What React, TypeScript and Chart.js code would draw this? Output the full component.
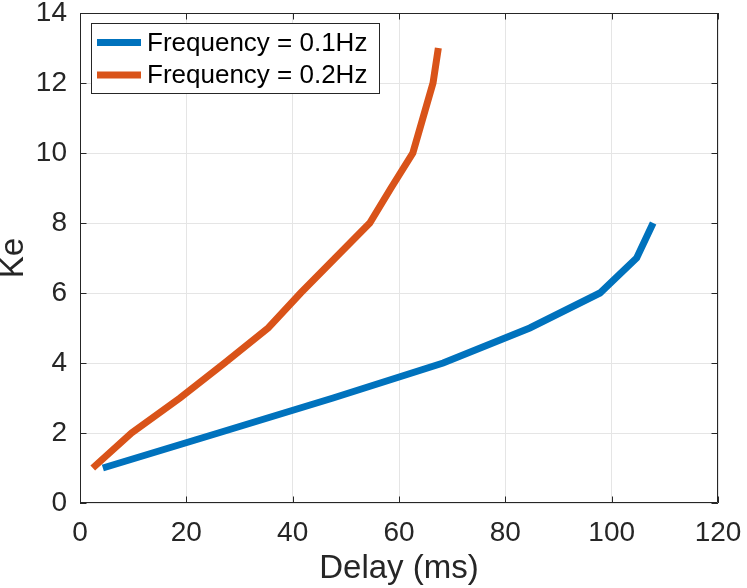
import React, { useEffect, useRef } from "react";
import { Chart, registerables } from "chart.js";

Chart.register(...registerables);

const delayLow = [4.3, 26, 47.6, 68.3, 84.6, 97.8, 104.7, 107.8];
const keLow = [1, 2, 3, 4, 5, 6, 7, 8];
const delayHigh = [2.4, 9.7, 18.8, 27.2, 35.4, 41.5, 48, 54.5, 58.5, 62.6, 64.5, 66.4, 67.4];
const keHigh = [1, 2, 3, 4, 5, 6, 7, 8, 9, 10, 11, 12, 13];
const seriesLabels = ["Frequency = 0.1Hz", "Frequency = 0.2Hz"];
const seriesColors = ["#0072BD", "#D95319"];
const xLabel = "Delay (ms)";
const yLabel = "Ke";

const FONT = "'Liberation Sans', Arial, Helvetica, sans-serif";
const AX = "#262626";

const framePlugin = {
  id: "matlabFrame",
  afterDraw(chart: any) {
    const { ctx, chartArea, scales } = chart;
    const { left, right, top, bottom } = chartArea;
    ctx.save();
    ctx.strokeStyle = AX;
    ctx.lineWidth = 1;
    ctx.beginPath();
    ctx.rect(left + 0.5, top + 0.5, right - left - 1, bottom - top - 1);
    ctx.stroke();
    const tl = 6.5;
    ctx.beginPath();
    scales.x.ticks.forEach((t: any) => {
      const px = Math.round(scales.x.getPixelForValue(t.value)) + 0.5;
      ctx.moveTo(px, bottom);
      ctx.lineTo(px, bottom - tl);
      ctx.moveTo(px, top);
      ctx.lineTo(px, top + tl);
    });
    scales.y.ticks.forEach((t: any) => {
      const py = Math.round(scales.y.getPixelForValue(t.value)) + 0.5;
      ctx.moveTo(left, py);
      ctx.lineTo(left + tl, py);
      ctx.moveTo(right, py);
      ctx.lineTo(right - tl, py);
    });
    ctx.stroke();

    // legend
    const bx = left + 11;
    const by = top + 10;
    const bw = 288;
    const bh = 70;
    ctx.fillStyle = "#ffffff";
    ctx.fillRect(bx, by, bw, bh);
    ctx.strokeStyle = AX;
    ctx.lineWidth = 1;
    ctx.strokeRect(bx + 0.5, by + 0.5, bw, bh);
    ctx.font = `26px ${FONT}`;
    ctx.textBaseline = "middle";
    ctx.textAlign = "left";
    chart.data.datasets.forEach((ds: any, i: number) => {
      const yy = by + 19.5 + i * 32.5;
      ctx.strokeStyle = ds.borderColor;
      ctx.lineWidth = 7;
      ctx.lineCap = "butt";
      ctx.beginPath();
      ctx.moveTo(bx + 6, yy);
      ctx.lineTo(bx + 50, yy);
      ctx.stroke();
      ctx.fillStyle = "#000000";
      ctx.fillText(ds.label, bx + 56, yy + 1);
    });
    ctx.restore();
  },
};

export default function App() {
  const ref = useRef<HTMLCanvasElement | null>(null);
  useEffect(() => {
    if (!ref.current) return;
    const chart = new Chart(ref.current, {
      type: "line",
      data: {
        datasets: [
          {
            label: seriesLabels[0],
            data: delayLow.map((d, i) => ({ x: d, y: keLow[i] })),
            borderColor: seriesColors[0],
            backgroundColor: seriesColors[0],
            borderWidth: 7,
            pointRadius: 0,
            borderCapStyle: "butt",
            tension: 0,
          },
          {
            label: seriesLabels[1],
            data: delayHigh.map((d, i) => ({ x: d, y: keHigh[i] })),
            borderColor: seriesColors[1],
            backgroundColor: seriesColors[1],
            borderWidth: 7,
            pointRadius: 0,
            borderCapStyle: "butt",
            tension: 0,
          },
        ],
      },
      options: {
        animation: false,
        responsive: true,
        maintainAspectRatio: false,
        layout: { padding: { top: 13, right: 29, left: 0, bottom: 0 } },
        plugins: { legend: { display: false }, tooltip: { enabled: false } },
        scales: {
          x: {
            type: "linear",
            min: 0,
            max: 120,
            afterFit: (s: any) => {
              s.height = 85;
              s.paddingLeft = 0;
              s.paddingRight = 0;
            },
            ticks: {
              stepSize: 20,
              padding: 13,
              color: AX,
              font: { family: FONT, size: 28 },
              maxRotation: 0,
            },
            grid: { color: "#e5e5e5", lineWidth: 1, drawTicks: false },
            border: { display: false },
            title: {
              display: true,
              text: xLabel,
              color: AX,
              font: { family: FONT, size: 33, lineHeight: 0.85 },
              padding: { top: 0, bottom: 5 },
            },
          },
          y: {
            type: "linear",
            min: 0,
            max: 14,
            afterFit: (s: any) => {
              s.width = 80;
              s.paddingTop = 0;
              s.paddingBottom = 0;
            },
            ticks: {
              stepSize: 2,
              padding: 13,
              color: AX,
              font: { family: FONT, size: 28 },
            },
            grid: { color: "#e5e5e5", lineWidth: 1, drawTicks: false },
            border: { display: false },
            title: {
              display: true,
              text: yLabel,
              color: AX,
              font: { family: FONT, size: 33, lineHeight: 0.85 },
              padding: { top: 0, bottom: 0 },
            },
          },
        },
      },
      plugins: [framePlugin],
    } as any);
    return () => chart.destroy();
  }, []);
  return (
    <div style={{ position: "fixed", left: 0, top: 0, width: 747, height: 588, background: "#fff" }}>
      <canvas ref={ref} />
    </div>
  );
}
